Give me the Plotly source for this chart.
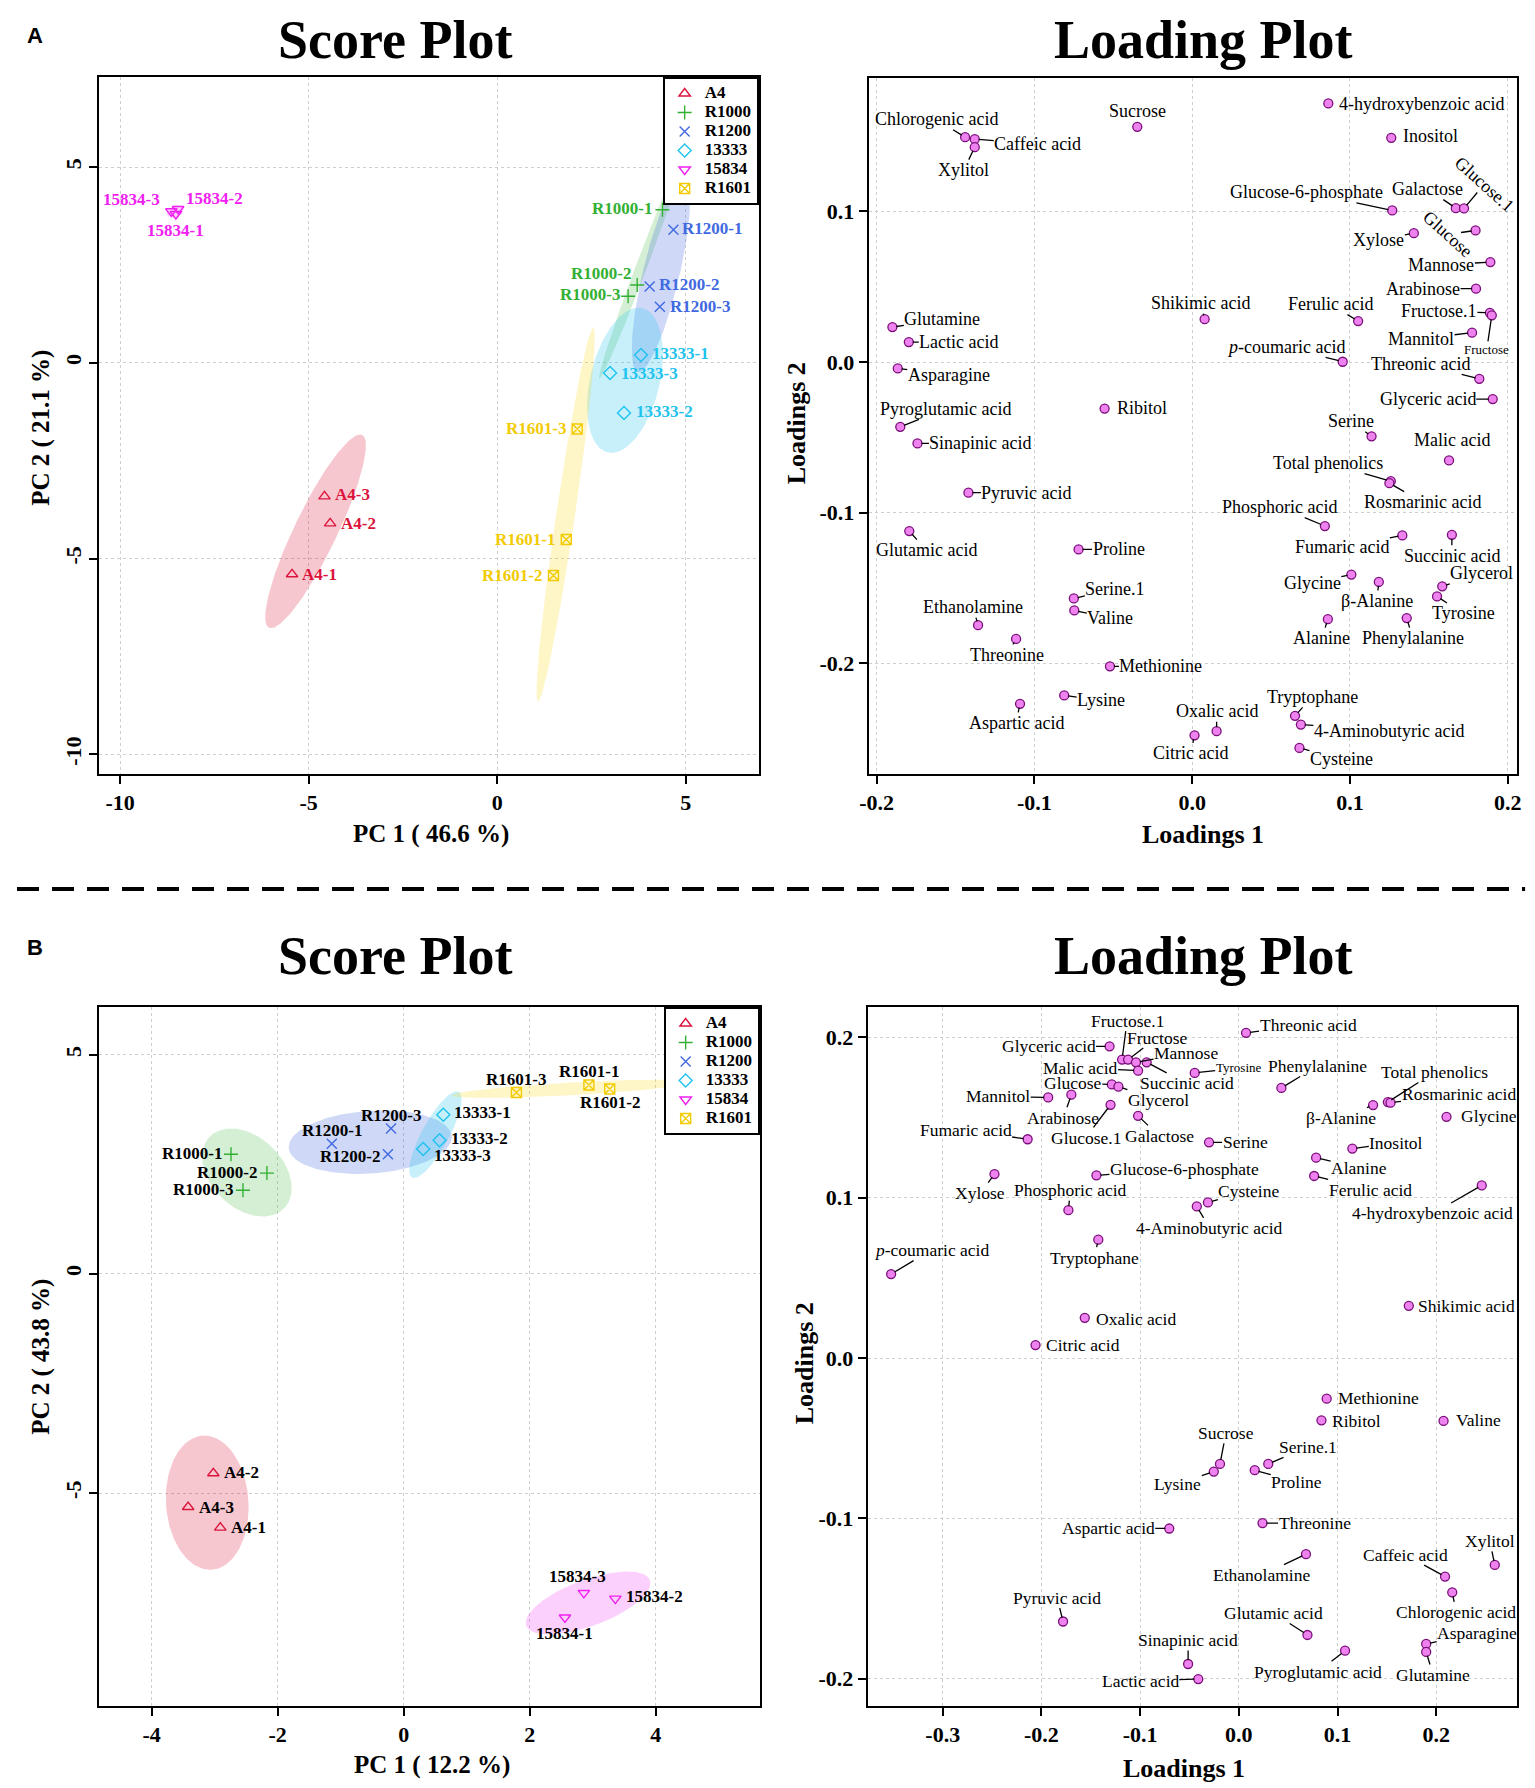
import numpy as np
import plotly.graph_objects as go

W, H = 1535, 1788

# ---------------- DATA ----------------
GROUPS = ["A4", "R1000", "R1200", "13333", "15834", "R1601"]

A_SAMPLES = ["A4-1", "A4-2", "A4-3", "R1000-1", "R1000-2", "R1000-3",
             "R1200-1", "R1200-2", "R1200-3", "13333-1", "13333-2", "13333-3",
             "15834-1", "15834-2", "15834-3", "R1601-1", "R1601-2", "R1601-3"]
A_PC1 = [-5.44, -4.43, -4.58, 4.38, 3.71, 3.47, 4.67, 4.04, 4.31,
         3.81, 3.36, 2.99, -8.52, -8.46, -8.64, 1.83, 1.49, 2.12]
A_PC2 = [-5.40, -4.10, -3.41, 3.91, 1.99, 1.70, 3.40, 1.95, 1.43,
         0.20, -1.28, -0.26, 3.80, 3.93, 3.87, -4.51, -5.43, -1.69]

B_SAMPLES = A_SAMPLES
B_PC1 = [-2.91, -3.02, -3.42, -2.74, -2.17, -2.55, -1.14, -0.25, -0.20,
         0.63, 0.57, 0.31, 2.56, 3.36, 2.86, 2.94, 3.27, 1.79]
B_PC2 = [-5.79, -4.55, -5.32, 2.73, 2.30, 1.91, 2.97, 2.73, 3.32,
         3.63, 3.05, 2.85, -7.84, -7.41, -7.28, 4.31, 4.22, 4.14]

LA_NAMES = ["4-hydroxybenzoic acid", "Sucrose", "Chlorogenic acid", "Caffeic acid", "Xylitol",
            "Inositol", "Glucose-6-phosphate", "Galactose", "Glucose.1", "Glucose", "Xylose",
            "Mannose", "Arabinose", "Fructose.1", "Fructose", "Mannitol", "Shikimic acid",
            "Ferulic acid", "Glutamine", "Lactic acid", "p-coumaric acid", "Threonic acid",
            "Asparagine", "Glyceric acid", "Ribitol", "Pyroglutamic acid", "Serine",
            "Sinapinic acid", "Malic acid", "Total phenolics", "Rosmarinic acid", "Pyruvic acid",
            "Phosphoric acid", "Glutamic acid", "Fumaric acid", "Succinic acid", "Proline",
            "Glycine", "β-Alanine", "Glycerol", "Tyrosine", "Serine.1", "Valine", "Ethanolamine",
            "Alanine", "Phenylalanine", "Threonine", "Methionine", "Lysine", "Aspartic acid",
            "Tryptophane", "4-Aminobutyric acid", "Oxalic acid", "Citric acid", "Cysteine"]
LA_L1 = [0.0863, -0.0348, -0.1439, -0.1378, -0.1378, 0.1262, 0.1268, 0.1671, 0.1723, 0.1796,
         0.1405, 0.1890, 0.1799, 0.1887, 0.1899, 0.1774, 0.0079, 0.1052, -0.1900, -0.1796,
         0.0954, 0.1820, -0.1866, 0.1905, -0.0555, -0.1850, 0.1137, -0.1741, 0.1628, 0.1259,
         0.1250, -0.1418, 0.0841, -0.1793, 0.1332, 0.1646, -0.0720, 0.1009, 0.1183, 0.1585,
         0.1552, -0.0750, -0.0747, -0.1357, 0.0860, 0.1360, -0.1116, -0.0521, -0.0811, -0.1091,
         0.0652, 0.0689, 0.0155, 0.0015, 0.0680]
LA_L2 = [0.1717, 0.1562, 0.1493, 0.1480, 0.1427, 0.1489, 0.1007, 0.1022, 0.1020, 0.0874,
         0.0856, 0.0664, 0.0487, 0.0327, 0.0310, 0.0195, 0.0285, 0.0272, 0.0232, 0.0133,
         0.0002, -0.0111, -0.0042, -0.0246, -0.0309, -0.0430, -0.0493, -0.0540, -0.0653, -0.0791,
         -0.0804, -0.0867, -0.1089, -0.1122, -0.1151, -0.1147, -0.1244, -0.1411, -0.1460, -0.1489,
         -0.1556, -0.1569, -0.1649, -0.1747, -0.1707, -0.1700, -0.1838, -0.2020, -0.2213, -0.2269,
         -0.2349, -0.2407, -0.2451, -0.2478, -0.2562]

LB_NAMES = ["Threonic acid", "Fructose.1", "Fructose", "Glyceric acid", "Mannose", "Malic acid",
            "Succinic acid", "Tyrosine", "Phenylalanine", "Total phenolics", "Rosmarinic acid",
            "β-Alanine", "Glycine", "Glucose", "Glycerol", "Mannitol", "Arabinose", "Glucose.1",
            "Galactose", "Fumaric acid", "Serine", "Inositol", "Alanine", "Ferulic acid", "Xylose",
            "Glucose-6-phosphate", "4-hydroxybenzoic acid", "Cysteine", "4-Aminobutyric acid",
            "Phosphoric acid", "Tryptophane", "p-coumaric acid", "Shikimic acid", "Oxalic acid",
            "Citric acid", "Methionine", "Ribitol", "Valine", "Sucrose", "Lysine", "Serine.1",
            "Proline", "Threonine", "Aspartic acid", "Ethanolamine", "Xylitol", "Caffeic acid",
            "Chlorogenic acid", "Pyruvic acid", "Glutamic acid", "Asparagine", "Glutamine",
            "Pyroglutamic acid", "Sinapinic acid", "Lactic acid"]
LB_L1 = [0.0073, -0.1183, -0.1122, -0.1310, -0.1042, -0.1021, -0.0934, -0.0447, 0.0431, 0.1510,
         0.1537, 0.1360, 0.2104, -0.1287, -0.1220, -0.1932, -0.1697, -0.1300, -0.1021, -0.2140,
         -0.0302, 0.1150, 0.0783, 0.0763, -0.2476, -0.1443, 0.2461, -0.0313, -0.0426, -0.1727,
         -0.1424, -0.3523, 0.1722, -0.1561, -0.2060, 0.0890, 0.0837, 0.2074, -0.0191, -0.0254,
         0.0298, 0.0161, 0.0240, -0.0705, 0.0680, 0.2593, 0.2089, 0.2162, -0.1781, 0.0695,
         0.1898, 0.1898, 0.1076, -0.0514, -0.0411]
LB_L2 = [0.2029, 0.1862, 0.1862, 0.1945, 0.1845, 0.1793, 0.1845, 0.1779, 0.1685, 0.1597,
         0.1593, 0.1578, 0.1505, 0.1707, 0.1693, 0.1626, 0.1643, 0.1580, 0.1511, 0.1365,
         0.1346, 0.1307, 0.1250, 0.1136, 0.1148, 0.1140, 0.1077, 0.0971, 0.0946, 0.0923,
         0.0739, 0.0524, 0.0326, 0.0251, 0.0081, -0.0253, -0.0388, -0.0392, -0.0660, -0.0708,
         -0.0660, -0.0699, -0.1029, -0.1063, -0.1223, -0.1290, -0.1363, -0.1461, -0.1643, -0.1727,
         -0.1783, -0.1833, -0.1825, -0.1908, -0.2002]

A_TICKS_PC = [-10, -5, 0, 5]
B_TICKS_PC1 = [-4, -2, 0, 2, 4]
B_TICKS_PC2 = [-5, 0, 5]
A_TICKS_L1 = [-0.2, -0.1, 0.0, 0.1, 0.2]
A_TICKS_L2 = [-0.2, -0.1, 0.0, 0.1]
B_TICKS_L1 = [-0.3, -0.2, -0.1, 0.0, 0.1, 0.2]
B_TICKS_L2 = [-0.2, -0.1, 0.0, 0.1, 0.2]

# ---------------- STYLE ----------------
SERIF = "Liberation Serif"
COLORS = {"A4": "#DC143C", "R1000": "#33B033", "R1200": "#4169E1",
          "13333": "#1FC3EE", "15834": "#F020F0", "R1601": "#F2CB05"}
FILLS = {"A4": "rgba(220,20,60,0.24)", "R1000": "rgba(60,180,60,0.22)",
         "R1200": "rgba(65,105,225,0.25)", "13333": "rgba(30,195,240,0.25)",
         "15834": "rgba(240,40,240,0.22)", "R1601": "rgba(255,215,0,0.22)"}
SYMBOLS = {"A4": "triangle-up-open", "R1000": "cross-thin-open", "R1200": "x-thin-open",
           "13333": "diamond-open", "15834": "triangle-down-open", "R1601": "square-x-open"}

# label placement: (mode, dx, dy) in pixels; mode l=text to the right, r=text to the left,
# c=centered without line, a=leader line to a label centred at the offset
SA_LAB = {"A4-1": ("l", 8, 0), "A4-2": ("l", 9, 0), "A4-3": ("l", 9, -2),
          "R1000-1": ("r", -8, -1), "R1000-2": ("r", -4, -11), "R1000-3": ("r", -6, -2),
          "R1200-1": ("l", 7, -1), "R1200-2": ("l", 7, -2), "R1200-3": ("l", 8, 0),
          "13333-1": ("l", 9, -2), "13333-2": ("l", 10, -1), "13333-3": ("l", 9, 0),
          "15834-1": ("c", 0, 16), "15834-2": ("l", 6, -10), "15834-3": ("r", -9, -12),
          "R1601-1": ("r", -9, 0), "R1601-2": ("r", -9, 0), "R1601-3": ("r", -9, -1)}
SB_LAB = {"A4-1": ("l", 9, 0), "A4-2": ("l", 9, -1), "A4-3": ("l", 9, 0),
          "R1000-1": ("r", -7, -1), "R1000-2": ("r", -8, -1), "R1000-3": ("r", -8, -1),
          "R1200-1": ("c", 0, -13), "R1200-2": ("r", -6, 2), "R1200-3": ("c", 0, -13),
          "13333-1": ("l", 9, -2), "13333-2": ("l", 9, -2), "13333-3": ("l", 9, 7),
          "15834-1": ("c", 0, 16), "15834-2": ("l", 9, -2), "15834-3": ("c", -6, -16),
          "R1601-1": ("c", 0, -14), "R1601-2": ("c", 0, 14), "R1601-3": ("c", 0, -13)}

LA_LAB = {"4-hydroxybenzoic acid": ("l", 9, 1), "Sucrose": ("c", 0, -16),
          "Chlorogenic acid": ("a", -29, -18), "Caffeic acid": ("a", 63, 5), "Xylitol": ("a", -11, 23),
          "Inositol": ("l", 10, -2), "Glucose-6-phosphate": ("a", -86, -18), "Galactose": ("a", -28, -19),
          "Glucose.1": ("a", 20, -24), "Glucose": ("a", -28, 4), "Xylose": ("a", -35, 7),
          "Mannose": ("a", -49, 3), "Arabinose": ("a", -53, 0), "Fructose.1": ("a", -51, -2),
          "Fructose": ("a", -5, 34), "Mannitol": ("a", -51, 6), "Shikimic acid": ("a", -4, -16),
          "Ferulic acid": ("a", -28, -17), "Glutamine": ("a", 50, -8), "Lactic acid": ("a", 50, 0),
          "p-coumaric acid": ("a", -57, -15), "Threonic acid": ("a", -59, -15), "Asparagine": ("a", 51, 7),
          "Glyceric acid": ("a", -65, 0), "Ribitol": ("l", 10, -1), "Pyroglutamic acid": ("a", 45, -18),
          "Serine": ("a", -21, -15), "Sinapinic acid": ("a", 63, 0), "Malic acid": ("c", 3, -20),
          "Total phenolics": ("a", -63, -18), "Rosmarinic acid": ("a", 33, 19), "Pyruvic acid": ("a", 58, 0),
          "Phosphoric acid": ("a", -45, -19), "Glutamic acid": ("a", 17, 19), "Fumaric acid": ("a", -60, 12),
          "Succinic acid": ("a", 0, 21), "Proline": ("a", 40, 0), "Glycine": ("a", -39, 8),
          "β-Alanine": ("a", -2, 19), "Glycerol": ("a", 39, -13), "Tyrosine": ("a", 26, 17),
          "Serine.1": ("a", 41, -9), "Valine": ("a", 36, 8), "Ethanolamine": ("a", -5, -18),
          "Alanine": ("a", -6, 19), "Phenylalanine": ("a", 6, 20), "Threonine": ("a", -9, 16),
          "Methionine": ("a", 51, 0), "Lysine": ("a", 37, 5), "Aspartic acid": ("a", -4, 19),
          "Tryptophane": ("a", 17, -19), "4-Aminobutyric acid": ("a", 88, 6), "Oxalic acid": ("a", 0, -20),
          "Citric acid": ("a", -4, 18), "Cysteine": ("a", 42, 11)}
LB_LAB = {"Threonic acid": ("a", 62, -8), "Fructose.1": ("a", 5, -39), "Fructose": ("a", 29, -22),
          "Glyceric acid": ("a", -61, 0), "Mannose": ("a", 50, -9), "Malic acid": ("a", -58, -3),
          "Succinic acid": ("a", 40, 21), "Tyrosine": ("a", 44, -5), "Phenylalanine": ("a", 36, -22),
          "Total phenolics": ("a", 47, -30), "Rosmarinic acid": ("a", 68, -9), "β-Alanine": ("a", -32, 13),
          "Glycine": ("l", 12, -1), "Glucose": ("a", -39, -1), "Glycerol": ("a", 40, 13),
          "Mannitol": ("a", -50, -1), "Arabinose": ("a", -8, 23), "Glucose.1": ("a", -25, 33),
          "Galactose": ("a", 21, 20), "Fumaric acid": ("a", -62, -9), "Serine": ("a", 36, 0),
          "Inositol": ("a", 44, -6), "Alanine": ("a", 43, 10), "Ferulic acid": ("a", 56, 14),
          "Xylose": ("a", -14, 19), "Glucose-6-phosphate": ("a", 88, -6),
          "4-hydroxybenzoic acid": ("a", -49, 28), "Cysteine": ("a", 41, -11),
          "4-Aminobutyric acid": ("a", 13, 22), "Phosphoric acid": ("a", 2, -20), "Tryptophane": ("a", -4, 18),
          "p-coumaric acid": ("a", 40, -24), "Shikimic acid": ("l", 7, 0), "Oxalic acid": ("l", 9, 1),
          "Citric acid": ("l", 8, 0), "Methionine": ("l", 9, -1), "Ribitol": ("l", 9, 1),
          "Valine": ("l", 10, -1), "Sucrose": ("a", 6, -31), "Lysine": ("a", -36, 12),
          "Serine.1": ("a", 40, -17), "Proline": ("a", 42, 12), "Threonine": ("a", 52, 0),
          "Aspartic acid": ("a", -61, -1), "Ethanolamine": ("a", -44, 21), "Xylitol": ("a", -5, -24),
          "Caffeic acid": ("a", -40, -22), "Chlorogenic acid": ("a", 4, 20), "Pyruvic acid": ("a", -6, -24),
          "Glutamic acid": ("a", -34, -22), "Asparagine": ("a", 51, -11), "Glutamine": ("a", 7, 23),
          "Pyroglutamic acid": ("a", -27, 21), "Sinapinic acid": ("a", 0, -24), "Lactic acid": ("a", -58, 2)}
ROTATED_A = {"Glucose.1": 42, "Glucose": 42}
SMALL_A = {"Fructose"}
SMALL_B = {"Tyrosine"}


def px(x):
    return x / W


def py(y):
    return 1 - y / H


DOM = {
    "A_s": ([px(83), px(748)], [py(766), py(69)]),
    "A_l": ([px(859), px(1513)], [py(766), py(70)]),
    "B_s": ([px(83), px(749)], [py(1698), py(999)]),
    "B_l": ([px(858), px(1513)], [py(1698), py(999)]),
}


def group_of(s):
    return s.rsplit("-", 1)[0]


def ellipse(xs, ys, n=160):
    pts = np.column_stack([xs, ys])
    c = pts.mean(axis=0)
    cov = np.cov(pts.T)
    vals, vecs = np.linalg.eigh(cov)
    t = np.sqrt(-2 * np.log(0.05))
    th = np.linspace(0, 2 * np.pi, n)
    circ = np.vstack([np.cos(th), np.sin(th)])
    e = vecs @ (np.sqrt(np.maximum(vals, 0))[:, None] * circ) * t
    return c[0] + e[0], c[1] + e[1]


def fmt_name(n):
    if n.startswith("p-"):
        return "<i>p</i>" + n[1:]
    return n


fig = go.Figure()
annotations = []


def add_score(samples, pc1, pc2, xa, ya, legend, labs, colored_labels):
    grp = [group_of(s) for s in samples]
    for g in GROUPS:
        xs = [x for x, gg in zip(pc1, grp) if gg == g]
        ys = [y for y, gg in zip(pc2, grp) if gg == g]
        ex, ey = ellipse(xs, ys)
        fig.add_trace(go.Scatter(x=ex, y=ey, mode="lines", fill="toself", fillcolor=FILLS[g],
                                 line=dict(width=0), hoverinfo="skip", showlegend=False,
                                 xaxis=xa, yaxis=ya))
    for g in GROUPS:
        xs = [x for x, gg in zip(pc1, grp) if gg == g]
        ys = [y for y, gg in zip(pc2, grp) if gg == g]
        fig.add_trace(go.Scatter(x=xs, y=ys, mode="markers", legend=legend,
                                 name="<span style='font-size:17px'>%s</span>" % g,
                                 marker=dict(symbol=SYMBOLS[g], size=10, color=COLORS[g],
                                             line=dict(color=COLORS[g], width=1.4)),
                                 xaxis=xa, yaxis=ya))
    for s, x, y in zip(samples, pc1, pc2):
        mode, dx, dy = labs[s]
        anchor = {"l": "left", "r": "right", "c": "center"}[mode]
        col = COLORS[group_of(s)] if colored_labels else "black"
        annotations.append(dict(x=x, y=y, xref=xa, yref=ya, text="<b>%s</b>" % s, showarrow=False,
                                xanchor=anchor, yanchor="middle", xshift=dx, yshift=-dy,
                                font=dict(family=SERIF, size=17, color=col)))


def add_loading(names, l1, l2, xa, ya, labs, rotated, small, fsz):
    fig.add_trace(go.Scatter(x=l1, y=l2, mode="markers", showlegend=False,
                             marker=dict(symbol="circle", size=9, color="#EE82EE",
                                         line=dict(color="#7A0F7A", width=1.3)),
                             xaxis=xa, yaxis=ya))
    for n, x, y in zip(names, l1, l2):
        mode, dx, dy = labs[n]
        fsize = 13 if n in small else fsz
        f = dict(family=SERIF, size=fsize, color="black")
        if mode == "a":
            annotations.append(dict(x=x, y=y, xref=xa, yref=ya, text=fmt_name(n), showarrow=True,
                                    ax=dx, ay=dy, arrowhead=0, arrowwidth=1.3, arrowcolor="black",
                                    standoff=4, borderpad=0, textangle=rotated.get(n, 0), font=f))
        else:
            anchor = {"l": "left", "r": "right", "c": "center"}[mode]
            annotations.append(dict(x=x, y=y, xref=xa, yref=ya, text=fmt_name(n), showarrow=False,
                                    xanchor=anchor, yanchor="middle", xshift=dx, yshift=-dy, font=f))


add_score(A_SAMPLES, A_PC1, A_PC2, "x", "y", "legend", SA_LAB, True)
add_loading(LA_NAMES, LA_L1, LA_L2, "x2", "y2", LA_LAB, ROTATED_A, SMALL_A, 18)
add_score(B_SAMPLES, B_PC1, B_PC2, "x3", "y3", "legend2", SB_LAB, False)
add_loading(LB_NAMES, LB_L1, LB_L2, "x4", "y4", LB_LAB, {}, SMALL_B, 17.5)


def axis(domain, rng, ticks, texts, anchor, angle=0):
    return dict(domain=domain, range=rng, anchor=anchor, tickvals=ticks, ticktext=texts,
                tickangle=angle, showline=True, mirror=True, linecolor="black", linewidth=2,
                ticks="outside", ticklen=8, tickwidth=1.5, tickcolor="black",
                showgrid=True, gridcolor="#CFCFCF", griddash="dot", gridwidth=1, zeroline=False,
                tickfont=dict(family=SERIF, size=22, color="black", weight="bold"))


def tt(vals, fmt):
    return [("%" + fmt) % v for v in vals]


fig.update_layout(
    xaxis=axis(DOM["A_s"][0], [-10.55, 6.93], A_TICKS_PC, tt(A_TICKS_PC, "d"), "y"),
    yaxis=axis(DOM["A_s"][1], [-10.5, 7.3], A_TICKS_PC, tt(A_TICKS_PC, "d"), "x", -90),
    xaxis2=axis(DOM["A_l"][0], [-0.205, 0.206], A_TICKS_L1, tt(A_TICKS_L1, ".1f"), "y2"),
    yaxis2=axis(DOM["A_l"][1], [-0.2735, 0.1886], A_TICKS_L2, tt(A_TICKS_L2, ".1f"), "x2"),
    xaxis3=axis(DOM["B_s"][0], [-4.83, 5.65], B_TICKS_PC1, tt(B_TICKS_PC1, "d"), "y3"),
    yaxis3=axis(DOM["B_s"][1], [-9.86, 6.09], B_TICKS_PC2, tt(B_TICKS_PC2, "d"), "x3", -90),
    xaxis4=axis(DOM["B_l"][0], [-0.376, 0.282], B_TICKS_L1, tt(B_TICKS_L1, ".1f"), "y4"),
    yaxis4=axis(DOM["B_l"][1], [-0.217, 0.219], B_TICKS_L2, tt(B_TICKS_L2, ".1f"), "x4"),
)

leg = dict(xanchor="right", yanchor="top", bgcolor="white", bordercolor="black", borderwidth=2,
           font=dict(family=SERIF, size=12, color="black", weight="bold"), tracegroupgap=0,
           itemwidth=30)
fig.update_layout(legend=dict(leg, x=px(748), y=py(69)), legend2=dict(leg, x=px(749), y=py(999)))


def paper_text(x, y, text, size, angle=0, family=SERIF):
    annotations.append(dict(x=px(x), y=py(y), xref="paper", yref="paper", text=text, showarrow=False,
                            xanchor="center", yanchor="middle", textangle=angle,
                            font=dict(family=family, size=size, color="black")))


paper_text(381, 32, "<b>Score Plot</b>", 54)
paper_text(1197, 32, "<b>Loading Plot</b>", 54)
paper_text(381, 948, "<b>Score Plot</b>", 54)
paper_text(1197, 948, "<b>Loading Plot</b>", 54)
paper_text(18, 27, "<b>A</b>", 22, family="Liberation Sans")
paper_text(18, 939, "<b>B</b>", 22, family="Liberation Sans")
paper_text(418, 826, "<b>PC 1 ( 46.6 %)</b>", 25)
paper_text(24, 420, "<b>PC 2 ( 21.1 %)</b>", 25, -90)
paper_text(1196, 826, "<b>Loadings 1</b>", 26)
paper_text(787, 415, "<b>Loadings 2</b>", 26, -90)
paper_text(419, 1757, "<b>PC 1 ( 12.2 %)</b>", 25)
paper_text(24, 1349, "<b>PC 2 ( 43.8 %)</b>", 25, -90)
paper_text(1177, 1760, "<b>Loadings 1</b>", 26)
paper_text(794, 1355, "<b>Loadings 2</b>", 26, -90)

fig.update_layout(
    width=W, height=H, margin=dict(l=0, r=0, t=0, b=0),
    paper_bgcolor="white", plot_bgcolor="white",
    annotations=annotations,
    shapes=[dict(type="line", xref="paper", yref="paper", x0=0, x1=px(1521), y0=py(881), y1=py(881),
                 line=dict(color="black", width=4, dash="22px,13px"))],
)

fig.write_html("out.html")
